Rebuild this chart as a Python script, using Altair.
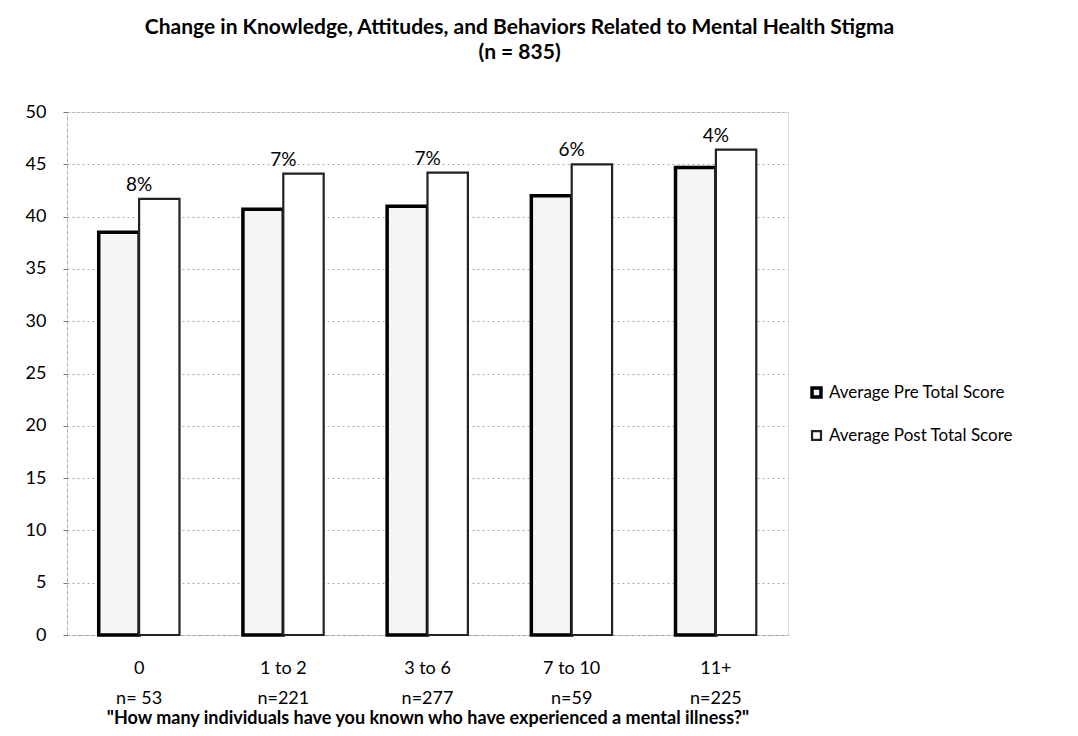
import altair as alt
import pandas as pd

groups = ["0", "1 to 2", "3 to 6", "7 to 10", "11+"]
n_labels = ["n= 53", "n=221", "n=277", "n=59", "n=225"]
pre_scores = [38.5, 40.7, 41.0, 42.0, 44.7]
post_scores = [41.7, 44.1, 44.2, 45.0, 46.4]
pct_labels = ["8%", "7%", "7%", "6%", "4%"]
series = ["Average Pre Total Score", "Average Post Total Score"]

cats = [f"{g}|{n}" for g, n in zip(groups, n_labels)]
rows = []
for c, pre, post in zip(cats, pre_scores, post_scores):
    rows.append({"cat": c, "series": series[0], "score": pre})
    rows.append({"cat": c, "series": series[1], "score": post})
df = pd.DataFrame(rows)
lab = pd.DataFrame({"cat": cats, "pct": pct_labels, "top": post_scores})

FONT = "Lato"

x = alt.X("cat:N", sort=cats,
          scale=alt.Scale(paddingInner=0.44, paddingOuter=0.22),
          axis=alt.Axis(labelExpr="split(datum.value, '|')", labelAngle=0,
                        title='"How many individuals have you known who have experienced a mental illness?"',
                        labelFontSize=18, labelColor="black", labelFont=FONT,
                        labelPadding=24, labelLineHeight=30,
                        titleFont=FONT, titleFontSize=18, titleFontWeight="bold",
                        titleColor="black", titlePadding=2,
                        domain=True, domainColor="#999", domainDash=[2, 4],
                        ticks=False, grid=False))

bars = alt.Chart(df).mark_bar(strokeJoin="miter").encode(
    x=x,
    xOffset=alt.XOffset("series:N", sort=series, scale=alt.Scale(padding=0, paddingInner=0)),
    y=alt.Y("score:Q", scale=alt.Scale(domain=[0, 50]),
            axis=alt.Axis(values=list(range(0, 51, 5)), title=None,
                          labelFontSize=18, labelColor="black", labelFont=FONT,
                          labelPadding=17, domain=True, domainColor="#999",
                          domainDash=[2, 4], ticks=True, tickSize=4, tickColor="#777",
                          grid=True, gridColor="#aaa", gridDash=[2, 3], gridWidth=1)),
    fill=alt.Fill("series:N", sort=series,
                  scale=alt.Scale(domain=series, range=["#f5f5f5", "#ffffff"]),
                  legend=alt.Legend(title=None, orient="none", legendX=741, legendY=272,
                                    symbolType="square", labelLimit=0,
                                    symbolSize=80, symbolStrokeColor="#111",
                                    symbolStrokeWidth=2.5, labelFontSize=17,
                                    labelFont=FONT, labelColor="black",
                                    rowPadding=22)),
    stroke=alt.Stroke("series:N", sort=series,
                      scale=alt.Scale(domain=series, range=["#000000", "#222222"]),
                      legend=None),
    strokeWidth=alt.StrokeWidth("series:N", sort=series,
                                scale=alt.Scale(domain=series, range=[3.5, 2.2]),
                                legend=None),
)

texts = alt.Chart(lab).mark_text(dy=-14, fontSize=19, font=FONT, color="black").encode(
    x=alt.X("cat:N", sort=cats),
    y=alt.Y("top:Q"),
    text="pct:N",
)

chart = alt.layer(bars, texts).properties(
    width=721, height=523,
    padding={"left": 17, "top": 9, "right": 5, "bottom": 0},
    title=alt.TitleParams(["Change in Knowledge, Attitudes, and Behaviors Related to Mental Health Stigma",
                           "(n = 835)"],
                          font=FONT, fontSize=21, fontWeight="bold", color="black",
                          anchor="middle", frame="bounds", lineHeight=25, offset=40),
).configure_view(stroke=None).configure(background="white")

chart.save("out.html", embed_options={"renderer": "svg", "actions": False})
